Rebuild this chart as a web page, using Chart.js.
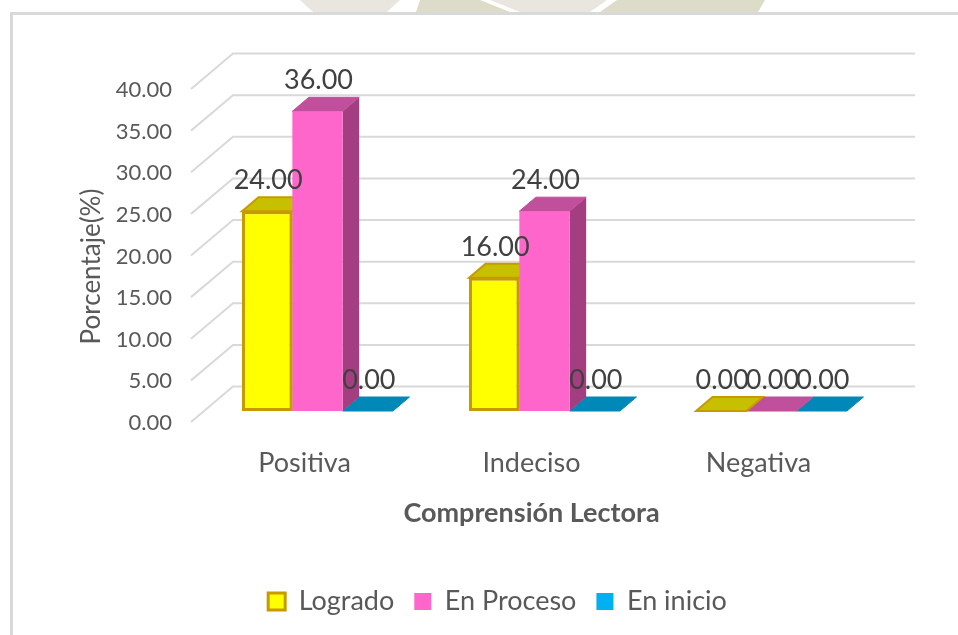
<!DOCTYPE html>
<html>
<head>
<meta charset="utf-8">
<style>
html,body{margin:0;padding:0;background:#fff;overflow:hidden}
#wrap{position:absolute;left:0;top:0;width:958px;height:635px}
</style>
<script src="https://cdn.jsdelivr.net/npm/chart.js@4/dist/chart.umd.min.js"></script>
</head>
<body>
<div id="wrap"><canvas id="c" width="958" height="635"></canvas></div>
<script>
const categories = ["Positiva", "Indeciso", "Negativa"];
const seriesNames = ["Logrado", "En Proceso", "En inicio"];
const logrado = [24, 16, 0];
const enProceso = [36, 24, 0];
const enInicio = [0, 0, 0];

const FONT = "Lato, Carlito, Calibri, sans-serif";
const INK = "#595959";
const BAR_DX = 16.5, BAR_DY = -14;
const WALL_LEFT = 191, WALL_BACK = 233, WALL_RIGHT = 915;
const FRONT_SHIFT = 11, BACK_SHIFT = -24.5;

const faces = [
  {top: "#C6C000", side: "#A8A200", edge: "#C79A00"},
  {top: "#C04F9C", side: "#A33F80", edge: "#C04F9C"},
  {top: "#0088B8", side: "#00709A", edge: "#0088B8"}
];

function poly(ctx, color, pts) {
  ctx.fillStyle = color;
  ctx.beginPath();
  pts.forEach((p, i) => i ? ctx.lineTo(p[0], p[1]) : ctx.moveTo(p[0], p[1]));
  ctx.closePath();
  ctx.fill();
}

const scene = {
  id: "scene",
  beforeDraw(chart) {
    const ctx = chart.ctx, y = chart.scales.y;
    ctx.save();
    // the faint backdrop cut off above the frame, then the frame
    poly(ctx, "#E8E6DE", [[300, 0], [400, 0], [387, 12], [313, 12]]);
    poly(ctx, "#DDDCC9", [[420, 0], [480, 0], [510, 12], [416, 12]]);
    poly(ctx, "#E8E6DE", [[490, 0], [607, 0], [590, 12], [520, 12]]);
    poly(ctx, "#DDDCC9", [[617, 0], [765, 0], [758, 12], [600, 12]]);
    ctx.strokeStyle = "#D9D9D9"; ctx.lineWidth = 3;
    ctx.beginPath(); ctx.moveTo(11.5, 635); ctx.lineTo(11.5, 13.5); ctx.lineTo(958, 13.5); ctx.stroke();
    // walls: one diagonal and one back line per axis tick
    ctx.strokeStyle = "#D9D9D9"; ctx.lineWidth = 2;
    y.ticks.forEach(t => {
      const p = y.getPixelForValue(t.value);
      ctx.beginPath();
      ctx.moveTo(WALL_LEFT, p + FRONT_SHIFT);
      ctx.lineTo(WALL_BACK, p + BACK_SHIFT);
      ctx.lineTo(WALL_RIGHT, p + BACK_SHIFT);
      ctx.stroke();
    });
    ctx.restore();
  },
  beforeDatasetsDraw(chart) {
    const ctx = chart.ctx;
    ctx.save();
    for (let d = chart.data.datasets.length - 1; d >= 0; d--) {
      const f = faces[d];
      chart.getDatasetMeta(d).data.forEach(bar => {
        const l = bar.x - bar.width / 2, r = bar.x + bar.width / 2;
        const t = bar.y, b = bar.base;
        ctx.fillStyle = f.side;
        ctx.beginPath();
        ctx.moveTo(r, t); ctx.lineTo(r + BAR_DX, t + BAR_DY);
        ctx.lineTo(r + BAR_DX, b + BAR_DY); ctx.lineTo(r, b);
        ctx.closePath(); ctx.fill();
        ctx.fillStyle = f.top; ctx.strokeStyle = f.edge; ctx.lineWidth = d === 0 ? 2 : 1;
        ctx.beginPath();
        ctx.moveTo(l, t); ctx.lineTo(l + BAR_DX, t + BAR_DY);
        ctx.lineTo(r + BAR_DX, t + BAR_DY); ctx.lineTo(r, t);
        ctx.closePath(); ctx.fill(); ctx.stroke();
      });
    }
    ctx.restore();
  },
  afterDatasetsDraw(chart) {
    const ctx = chart.ctx;
    ctx.save();
    ctx.fillStyle = "#404040";
    ctx.font = "27px " + FONT;
    ctx.textAlign = "center";
    ctx.textBaseline = "middle";
    chart.data.datasets.forEach((ds, d) => {
      chart.getDatasetMeta(d).data.forEach((bar, i) => {
        ctx.fillText(ds.data[i].toFixed(2), bar.x + 1, bar.y - 31);
      });
    });
    ctx.restore();
  }
};

function shiftTitle(scale, dx, dy) {
  const draw = scale.drawTitle;
  scale.drawTitle = function (area) {
    this.ctx.save();
    this.ctx.translate(dx, dy);
    draw.call(this, area);
    this.ctx.restore();
  };
}
const titleMover = {
  id: "titleMover",
  beforeDraw(chart) {
    if (chart.$moved) return;
    chart.$moved = true;
    shiftTitle(chart.scales.y, -38, 22);
    shiftTitle(chart.scales.x, -13, -35);
  }
};

new Chart(document.getElementById("c"), {
  type: "bar",
  data: {
    labels: categories,
    datasets: [
      {label: seriesNames[0], data: logrado, backgroundColor: "#FFFF00", borderColor: "#C79A00", borderWidth: 3, borderSkipped: false},
      {label: seriesNames[1], data: enProceso, backgroundColor: "#FF66CC", borderColor: "#FF66CC", borderWidth: 0},
      {label: seriesNames[2], data: enInicio, backgroundColor: "#00B0F0", borderColor: "#00B0F0", borderWidth: 0}
    ]
  },
  plugins: [scene, titleMover],
  options: {
    responsive: false,
    animation: false,
    layout: {padding: {left: 110, right: 73, top: 78, bottom: 10}},
    datasets: {bar: {categoryPercentage: 0.665, barPercentage: 1}},
    plugins: {
      tooltip: {enabled: false},
      title: {display: false},
      legend: {
        position: "bottom",
        labels: {
          boxWidth: 17, boxHeight: 17, padding: 20,
          color: INK,
          font: {family: FONT, size: 27}
        }
      }
    },
    scales: {
      x: {
        grid: {display: false, drawTicks: false},
        border: {display: false},
        afterFit(s) { s.height = 157; },
        ticks: {color: INK, font: {family: FONT, size: 27}, labelOffset: -13, padding: 36, maxRotation: 0},
        title: {display: true, text: "Comprensión Lectora", color: INK, font: {family: FONT, size: 27, weight: "bold"}, padding: {top: 12}}
      },
      y: {
        min: 0, max: 40,
        grid: {display: false, drawTicks: false},
        border: {display: false},
        afterFit(s) { s.width = 94; },
        ticks: {stepSize: 5, color: INK, font: {family: FONT, size: 22}, labelOffset: 12, padding: 32, callback: v => v.toFixed(2)},
        title: {display: true, text: "Porcentaje(%)", color: INK, font: {family: FONT, size: 26}}
      }
    }
  }
});
</script>
</body>
</html>
